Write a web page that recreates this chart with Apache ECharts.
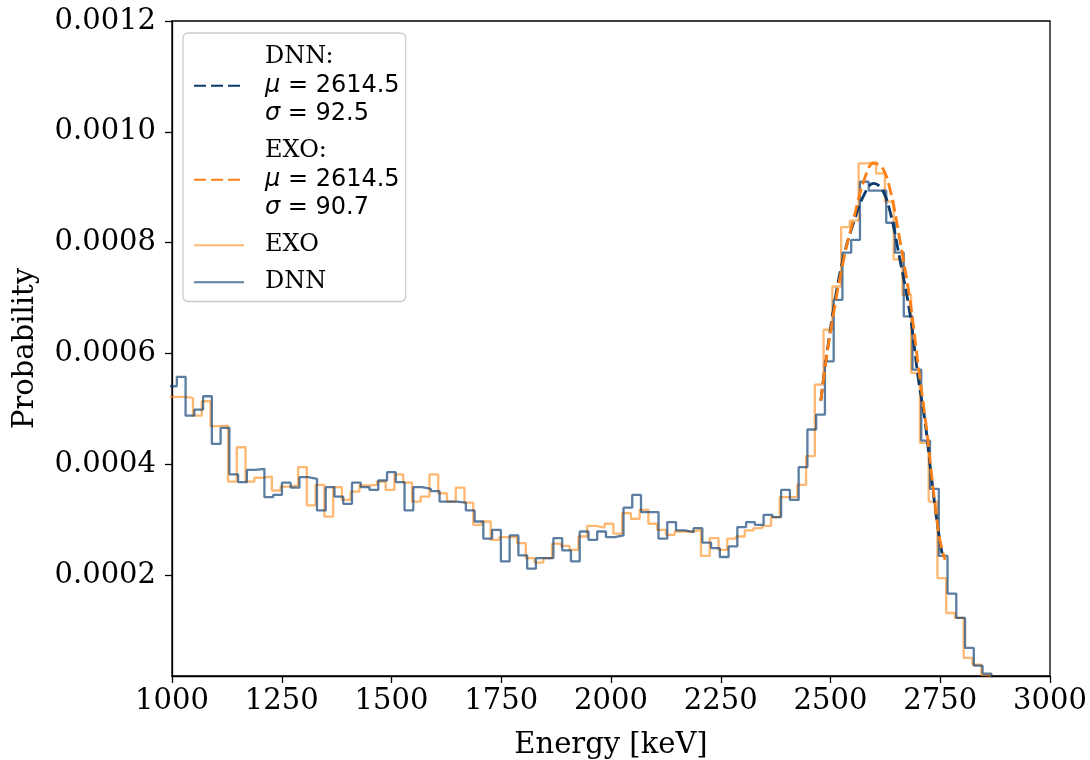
<!DOCTYPE html>
<html>
<head>
<meta charset="utf-8">
<script src="https://cdn.jsdelivr.net/npm/echarts@6/dist/echarts.min.js"></script>
<style>
html,body{margin:0;padding:0;background:#fff;}
#chart{width:1090px;height:760px;}
</style>
</head>
<body>
<div id="chart"></div>
<script>
// ---- tick values ----
const xTicks = [1000, 1250, 1500, 1750, 2000, 2250, 2500, 2750, 3000];
const yTicks = [0.0002, 0.0004, 0.0006, 0.0008, 0.0010, 0.0012];

// ---- histogram binning (keV) ----
const dnnBinStart = 991.05, dnnBinWidth = 19.95;
const exoBinStart = 988.0,  exoBinWidth = 19.95;

// ---- DNN histogram (probability per bin) ----
const dnnHist = [
  0.000541, 0.000558, 0.000488, 0.000499, 0.000523, 0.000437, 0.000466, 0.000382, 0.000368, 0.000390,
  0.000392, 0.000341, 0.000345, 0.000367, 0.000358, 0.000377, 0.000374, 0.000317, 0.000359, 0.000342,
  0.000329, 0.000367, 0.000359, 0.000354, 0.000371, 0.000386, 0.000368, 0.000317, 0.000359, 0.000356,
  0.000352, 0.000333, 0.000333, 0.000331, 0.000317, 0.000297, 0.000266, 0.000282, 0.000225, 0.000272,
  0.000236, 0.000212, 0.000231, 0.000231, 0.000267, 0.000245, 0.000225, 0.000279, 0.000264, 0.000279,
  0.000269, 0.000272, 0.000322, 0.000345, 0.000314, 0.000314, 0.000266, 0.000296, 0.000281, 0.000278,
  0.000285, 0.000259, 0.000249, 0.000233, 0.000252, 0.000287, 0.000296, 0.000291, 0.000309, 0.000305,
  0.000354, 0.000336, 0.000395, 0.000463, 0.000490, 0.000586, 0.000697, 0.000782, 0.000805, 0.000910,
  0.000894, 0.000894, 0.000836, 0.000782, 0.000667, 0.000571, 0.000443, 0.000356, 0.000235, 0.000167,
  0.000123, 0.000069, 0.000037, 0.0000227
];

// ---- EXO histogram (probability per bin) ----
const exoHist = [
  0.000522, 0.000522, 0.000520, 0.000488, 0.000514, 0.000469, 0.000470, 0.000369, 0.000431, 0.000369,
  0.000376, 0.000378, 0.000353, 0.000360, 0.000362, 0.000395, 0.000326, 0.000363, 0.000306, 0.000359,
  0.000336, 0.000351, 0.000362, 0.000363, 0.000369, 0.000354, 0.000382, 0.000367, 0.000333, 0.000342,
  0.000382, 0.000348, 0.000333, 0.000358, 0.000331, 0.000291, 0.000297, 0.000264, 0.000269, 0.000269,
  0.000258, 0.000231, 0.000223, 0.000231, 0.000257, 0.000253, 0.000246, 0.000270, 0.000289, 0.000286,
  0.000293, 0.000275, 0.000312, 0.000302, 0.000318, 0.000293, 0.000282, 0.000273, 0.000279, 0.000279,
  0.000282, 0.000235, 0.000267, 0.000246, 0.000266, 0.000270, 0.000281, 0.000285, 0.000289, 0.000305,
  0.000341, 0.000341, 0.000363, 0.000415, 0.000544, 0.000643, 0.000721, 0.000828, 0.000840, 0.000943,
  0.000946, 0.000925, 0.000874, 0.000770, 0.000706, 0.000565, 0.000439, 0.000333, 0.000195, 0.000132,
  0.000123, 0.000051, 0.000039, 0.000020
];

// ---- Gaussian fit curves ----
const dnnFitEnergy = [2478, 2490, 2511, 2530, 2552, 2575, 2598, 2617, 2636, 2658, 2681, 2700, 2715, 2727, 2742, 2755];
const dnnFitProb   = [0.000515, 0.000590, 0.000700, 0.000775, 0.000835, 0.000884, 0.000907, 0.000897, 0.000855, 0.000770, 0.000672, 0.000555, 0.000480, 0.000397, 0.000300, 0.000235];
const exoFitEnergy = [2478, 2490, 2507, 2530, 2552, 2579, 2598, 2617, 2636, 2658, 2681, 2700, 2719, 2734, 2749, 2761];
const exoFitProb   = [0.000515, 0.000588, 0.000673, 0.000770, 0.000841, 0.000919, 0.000943, 0.000937, 0.000895, 0.000805, 0.000697, 0.000577, 0.000463, 0.000355, 0.000264, 0.000228];

const fitLabels = {
  dnn: { name: 'DNN', mu: '2614.5', sigma: '92.5' },
  exo: { name: 'EXO', mu: '2614.5', sigma: '90.7' }
};

function stepPoints(start, width, vals) {
  const pts = [[start, 0]];
  vals.forEach((v, i) => pts.push([start + i * width, v]));
  pts.push([start + vals.length * width, vals[vals.length - 1]]);
  pts.push([start + vals.length * width, 0]);
  return pts;
}
function zip(a, b) { return a.map((x, i) => [x, b[i]]); }

const SERIF = 'DejaVu Serif';
const SANS = 'DejaVu Sans';

const chart = echarts.init(document.getElementById('chart'), null, { renderer: 'canvas' });

const legendText = {
  'DNN fit': `{t|${fitLabels.dnn.name}:}\n{i|μ}{m| = ${fitLabels.dnn.mu}}\n{i|σ}{m| = ${fitLabels.dnn.sigma}}`,
  'EXO fit': `{t|${fitLabels.exo.name}:}\n{i|μ}{m| = ${fitLabels.exo.mu}}\n{i|σ}{m| = ${fitLabels.exo.sigma}}`,
  'EXO': '{t|EXO}',
  'DNN': '{t|DNN}'
};

const LH = 28.5;
const option = {
  animation: false,
  backgroundColor: '#ffffff',
  grid: {
    left: 172, right: 40, top: 21, bottom: 84,
    containLabel: false,
    outerBoundsMode: 'none',
    show: true, borderColor: '#000', borderWidth: 1.3, backgroundColor: 'transparent'
  },
  legend: {
    data: ['DNN fit', 'EXO fit', 'EXO', 'DNN'],
    orient: 'vertical',
    left: 183, top: 33,
    padding: [10, 6, 5, 10],
    itemGap: 8.5,
    itemWidth: 50, itemHeight: 14,
    backgroundColor: 'rgba(255,255,255,0.85)',
    borderColor: '#cccccc', borderWidth: 1.3, borderRadius: 5,
    itemStyle: { opacity: 0, borderWidth: 0 },
    formatter: name => legendText[name],
    textStyle: {
      padding: [0, 0, 0, 16],
      color: '#000',
      fontSize: 24,
      lineHeight: LH,
      rich: {
        t: { fontFamily: SERIF, fontSize: 24, lineHeight: LH, color: '#000' },
        i: { fontFamily: SANS, fontStyle: 'italic', fontSize: 24, lineHeight: LH, color: '#000' },
        m: { fontFamily: SANS, fontSize: 24, lineHeight: LH, color: '#000' }
      }
    }
  },
  xAxis: {
    type: 'value', min: 1000, max: 3000,
    name: 'Energy [keV]', nameLocation: 'middle', nameGap: 55,
    nameTextStyle: { fontFamily: SERIF, fontSize: 29, color: '#000' },
    axisLine: { show: true, lineStyle: { color: '#000', width: 1.3 } },
    axisTick: { show: true, inside: false, length: 7, lineStyle: { color: '#000', width: 1.3 }, customValues: xTicks },
    axisLabel: { fontFamily: SERIF, fontSize: 29, color: '#000', margin: 11, customValues: xTicks,
      formatter: v => String(v) },
    splitLine: { show: false }
  },
  yAxis: {
    type: 'value', min: 0.0000183, max: 0.0012,
    name: 'Probability', nameLocation: 'middle', nameGap: 132, nameRotate: 90,
    nameTextStyle: { fontFamily: SERIF, fontSize: 29, color: '#000' },
    axisLine: { show: true, lineStyle: { color: '#000', width: 1.3 } },
    axisTick: { show: true, inside: false, length: 7, lineStyle: { color: '#000', width: 1.3 }, customValues: yTicks },
    axisLabel: { fontFamily: SERIF, fontSize: 29, color: '#000', margin: 16, customValues: yTicks,
      formatter: v => v.toFixed(4) },
    splitLine: { show: false }
  },
  series: [
    {
      name: 'EXO', type: 'line', step: 'end', symbol: 'none', clip: true, z: 2,
      data: stepPoints(exoBinStart, exoBinWidth, exoHist),
      color: '#ffb06a',
      lineStyle: { color: '#ff8c1a', width: 2.3, opacity: 0.62 }
    },
    {
      name: 'DNN', type: 'line', step: 'end', symbol: 'none', clip: true, z: 3,
      data: stepPoints(dnnBinStart, dnnBinWidth, dnnHist),
      color: '#5b7ea4',
      lineStyle: { color: '#0a3d73', width: 2.3, opacity: 0.67 }
    },
    {
      name: 'DNN fit', type: 'line', symbol: 'none', smooth: 0.4, clip: true, z: 4,
      data: zip(dnnFitEnergy, dnnFitProb),
      color: '#083a6c',
      lineStyle: { color: '#083a6c', width: 2.8, type: [12, 5] }
    },
    {
      name: 'EXO fit', type: 'line', symbol: 'none', smooth: 0.4, clip: true, z: 5,
      data: zip(exoFitEnergy, exoFitProb),
      color: '#fb7f14',
      lineStyle: { color: '#fb7f14', width: 2.8, type: [12, 5] }
    }
  ]
};
chart.setOption(option);
</script>
</body>
</html>
